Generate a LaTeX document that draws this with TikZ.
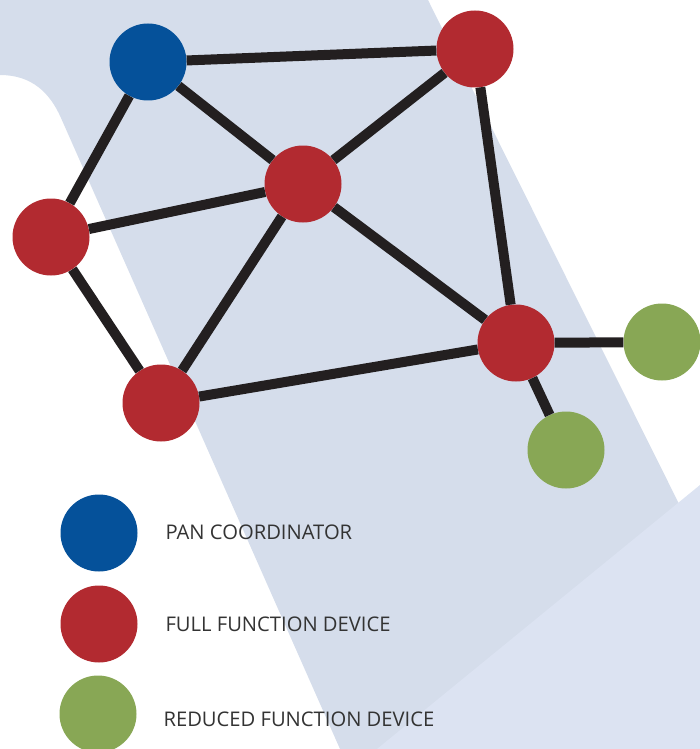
\documentclass[tikz,border=0pt]{standalone}
\usepackage{fontspec}
\setmainfont{Open Sans}
\usepackage{tikz}

\definecolor{bandblue}{RGB}{213,221,235}
\definecolor{paleblue}{RGB}{220,227,242}
\definecolor{pancol}{RGB}{5,81,154}
\definecolor{ffdcol}{RGB}{178,42,48}
\definecolor{rfdcol}{RGB}{136,167,85}
\definecolor{linkcol}{RGB}{35,31,32}
\definecolor{textcol}{RGB}{51,51,51}

\tikzset{
    dev/.style={circle, minimum size=77pt, inner sep=0pt},
    pan/.style={dev, fill=pancol},
    ffd/.style={dev, fill=ffdcol},
    rfd/.style={dev, fill=rfdcol},
    link/.style={line width=10pt, draw=linkcol},
    legtext/.style={anchor=west, text=textcol, font=\fontsize{20.2}{24}\selectfont}
}

\begin{document}
\begin{tikzpicture}[x=1pt, y=-1pt]
    \useasboundingbox (0,0) rectangle (700,749);
    % background
    \fill[bandblue] (0,0) -- (428,0) -- (700,546) -- (700,749) -- (340,749)
        -- (61,118) .. controls (50,93) and (32,75) .. (0,75) -- cycle;
    \fill[paleblue] (700,485) -- (377,749) -- (700,749) -- cycle;

    % devices
    \node[pan] (C)  at (148,62)  {};
    \node[ffd] (F1) at (475,49)  {};
    \node[ffd] (F2) at (303,184) {};
    \node[ffd] (F3) at (51,237)  {};
    \node[ffd] (F4) at (161,403) {};
    \node[ffd] (F5) at (516,343) {};
    \node[rfd] (R1) at (662,342) {};
    \node[rfd] (R2) at (566,450) {};

    % links
    \draw[link] (C) -- (F1);
    \draw[link] (C) -- (F3);
    \draw[link] (C) -- (F2);
    \draw[link] (F2) -- (F1);
    \draw[link] (F2) -- (F3);
    \draw[link] (F2) -- (F4);
    \draw[link] (F2) -- (F5);
    \draw[link] (F1) -- (F5);
    \draw[link] (F3) -- (F4);
    \draw[link] (F4) -- (F5);
    \draw[link] (F5) -- (R1);
    \draw[link] (F5) -- (R2);

    % legend
    \node[pan] (lpan) at (99,533) {};
    \node[ffd] (lffd) at (99,624) {};
    \node[rfd] (lrfd) at (98,714) {};
    \node[legtext] (tpan) at (162,532) {PAN COORDINATOR};
    \node[legtext] (tffd) at (162,624) {FULL FUNCTION DEVICE};
    \node[legtext] (trfd) at (160,719) {REDUCED FUNCTION DEVICE};
\end{tikzpicture}
\end{document}
